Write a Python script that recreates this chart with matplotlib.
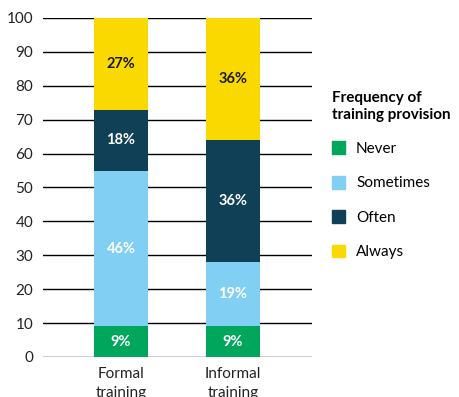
import numpy as np
import matplotlib.pyplot as plt
from matplotlib.patches import Patch

plt.rcParams['font.family'] = ['Lato', 'DejaVu Sans']

# share of respondents (%) by frequency of training provision
categories = ['Formal\ntraining', 'Informal\ntraining']
levels = ['Never', 'Sometimes', 'Often', 'Always']
never = [9, 9]
sometimes = [46, 19]
often = [18, 36]
always = [27, 36]

colours = ['#00a65c', '#82cff4', '#0f4056', '#fad900']
text_col = ['white', 'white', 'white', '#1a1a1a']

fig = plt.figure(figsize=(4.6, 3.97), dpi=100)
ax = fig.add_axes([0.0935, 0.1008, 0.5845, 0.8539])

x = np.arange(len(categories))
width = 0.48
bottom = np.zeros(len(categories))
for series, c, tc, lab in zip([never, sometimes, often, always], colours, text_col, levels):
    vals = np.array(series, dtype=float)
    ax.bar(x, vals, width, bottom=bottom, color=c, zorder=3, label=lab)
    for xi, b, v in zip(x, bottom, vals):
        ax.text(xi, b + v / 2, f'{int(v)}%', ha='center', va='center',
                color=tc, fontsize=10.5, fontweight='bold', zorder=4)
    bottom += vals

ax.set_xlim(-0.696, 1.705)
ax.set_ylim(0, 100)
ax.set_yticks(range(0, 101, 10))
ax.yaxis.grid(True, color='black', linewidth=1)
ax.set_axisbelow(True)
for s in ax.spines.values():
    s.set_visible(False)
ax.tick_params(axis='both', length=0, labelsize=11, colors='#222222')
ax.tick_params(axis='y', pad=7)
ax.tick_params(axis='x', pad=7)
ax.set_xticks(x)
ax.set_xticklabels(categories, fontsize=11, linespacing=1.45)

handles = [Patch(color=c, label=l) for c, l in zip(colours, levels)]
leg = fig.legend(handles=handles, loc='upper left', bbox_to_anchor=(0.721, 0.77),
                 frameon=False, title='Frequency of\ntraining provision',
                 fontsize=11, title_fontsize=11, handlelength=0.9,
                 handleheight=0.9, handletextpad=0.7, labelspacing=1.3,
                 borderaxespad=0, borderpad=0)
leg.get_title().set_fontweight('bold')
leg._legend_box.align = 'left'

fig.savefig('out.png', dpi=100)
